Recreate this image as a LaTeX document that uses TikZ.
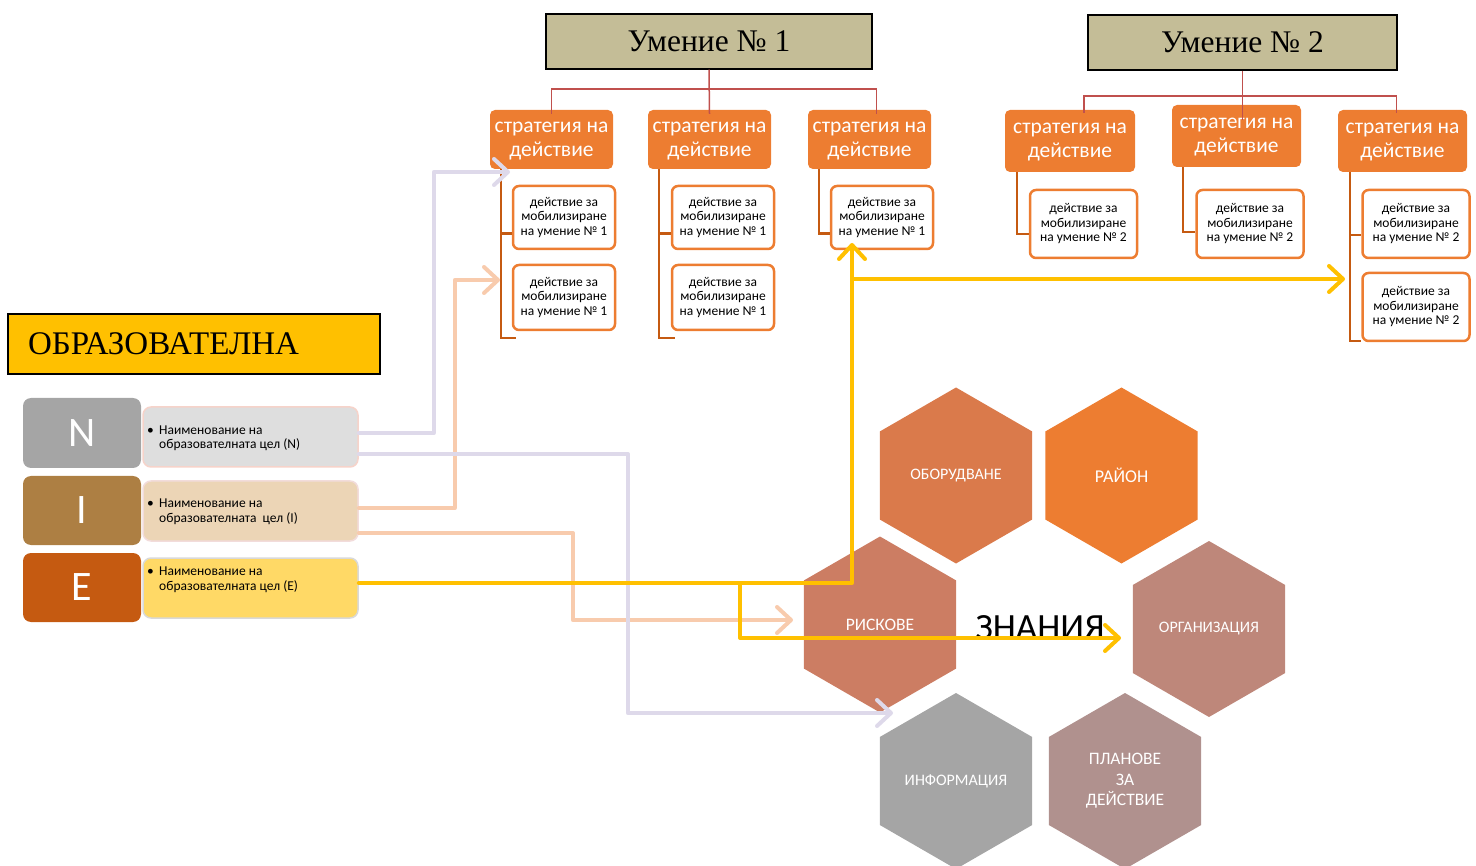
\documentclass[tikz,border=0pt]{standalone}
\usepackage{fontspec}
\setmainfont{Carlito}
\newfontfamily\serifnm{Liberation Serif}
\usetikzlibrary{arrows.meta,shapes.geometric,calc}
\definecolor{khaki}{HTML}{C4BD97}
\definecolor{orng}{HTML}{ED7D31}
\definecolor{brwn}{HTML}{C55A11}
\definecolor{redl}{HTML}{C0504D}
\definecolor{lav}{HTML}{DED9EA}
\definecolor{peach}{HTML}{F8CBAD}
\definecolor{yel}{HTML}{FFC000}
\definecolor{ngray}{HTML}{A5A5A5}
\definecolor{ibrown}{HTML}{AD7F43}
\definecolor{eorng}{HTML}{C55A11}
\definecolor{nfill}{HTML}{DEDEDE}
\definecolor{ifill}{HTML}{ECD5B6}
\definecolor{efill}{HTML}{FFD966}
\definecolor{nbord}{HTML}{F6D3CA}
\definecolor{ibord}{HTML}{F2DCDB}
\definecolor{ebord}{HTML}{D9D9D9}
\definecolor{hexA}{HTML}{DA7A4B}
\definecolor{hexB}{HTML}{ED7D31}
\definecolor{hexC}{HTML}{CC7D63}
\definecolor{hexD}{HTML}{BE877A}
\definecolor{hexE}{HTML}{A5A5A5}
\definecolor{hexF}{HTML}{B0918E}
\newcommand{\stx}{\raisebox{-3pt}{\begin{tabular}{@{}c@{}}стратегия на\\действие\end{tabular}}}
\begin{document}
\begin{tikzpicture}[x=1pt,y=-1pt,
  titlebox/.style={draw=black, line width=1.2pt, fill=khaki, inner sep=0pt, font=\serifnm\fontsize{31.5}{31.5}\selectfont},
  strat/.style={fill=orng, rounded corners=5pt, text=white, font=\fontsize{21.5}{24}\selectfont, align=center, inner sep=0pt},
  act/.style={draw=orng, line width=2.5pt, fill=white, rounded corners=6pt, font=\fontsize{13.5}{14.5}\selectfont, align=center, inner sep=0pt},
  tree/.style={draw=brwn, line width=2.5pt},
  link/.style={draw=redl, line width=1.5pt},
  letter/.style={rounded corners=8pt, text=white, font=\fontsize{42}{42}\selectfont, minimum width=118pt, minimum height=70pt, inner sep=0pt},
  goal/.style={rounded corners=8pt, line width=1.5pt, minimum width=215pt, minimum height=60pt, inner sep=0pt},
  goaltext/.style={anchor=west, align=left, font=\fontsize{13.5}{14.5}\selectfont, inner sep=0pt},
  hexa/.style={regular polygon, regular polygon sides=6, shape border rotate=30, minimum size=176pt, inner sep=0pt, text=white, align=center},
  flow/.style={line width=4pt, line cap=round, line join=round, -{Straight Barb[round,length=14pt,width=26pt]}}
]
\useasboundingbox (0,0) rectangle (1476,866);

% titles
\node[titlebox, minimum width=326pt, minimum height=55pt] (t1) at (709,41.5) {Умение № 1};
\node[titlebox, minimum width=309pt, minimum height=55pt] (t2) at (1242.5,42.5) {Умение № 2};

% strategies
\node[strat, minimum width=123pt, minimum height=59pt] (s11) at (551.5,139.5) {\stx};
\node[strat, minimum width=123pt, minimum height=59pt] (s12) at (709.5,139.5) {\stx};
\node[strat, minimum width=123pt, minimum height=59pt] (s13) at (869.5,139.5) {\stx};
\node[strat, minimum width=130pt, minimum height=62pt] (s21) at (1070,141) {\stx};
\node[strat, minimum width=129pt, minimum height=62pt] (s22) at (1236.5,136) {\stx};
\node[strat, minimum width=129pt, minimum height=62pt] (s23) at (1402.5,141) {\stx};

% red links
\draw[link] (t1.south) -- ([yshift=-4pt]s12.north);
\draw[link] ([yshift=-4pt]s11.north) -- ++(0,-25) -| ([xshift=7pt,yshift=-4pt]s13.north);
\draw[link] (t2.south) -- ([xshift=6pt,yshift=-15pt]s22.north);
\draw[link] ([xshift=14pt,yshift=-3pt]s21.north) -- ++(0,-17) -| ([xshift=-6pt,yshift=-3pt]s23.north);

% action boxes
\node[act, minimum width=102pt, minimum height=63pt] (a11) at (564,217.5) {действие за\\мобилизиране\\на умение № 1};
\node[act, minimum width=102pt, minimum height=65pt] (a12) at (564,297.5) {действие за\\мобилизиране\\на умение № 1};
\node[act, minimum width=102pt, minimum height=63pt] (a21) at (723,217.5) {действие за\\мобилизиране\\на умение № 1};
\node[act, minimum width=102pt, minimum height=65pt] (a22) at (723,297.5) {действие за\\мобилизиране\\на умение № 1};
\node[act, minimum width=102pt, minimum height=63pt] (a31) at (882,217.5) {действие за\\мобилизиране\\на умение № 1};
\node[act, minimum width=107pt, minimum height=68pt] (b11) at (1083.5,224) {действие за\\мобилизиране\\на умение № 2};
\node[act, minimum width=107pt, minimum height=68pt] (b21) at (1250,224) {действие за\\мобилизиране\\на умение № 2};
\node[act, minimum width=107pt, minimum height=68pt] (b31) at (1416,224) {действие за\\мобилизиране\\на умение № 2};
\node[act, minimum width=107pt, minimum height=68pt] (b32) at (1416,307) {действие за\\мобилизиране\\на умение № 2};

% tree lines
\draw[tree] ([xshift=11pt]s11.south west) |- ([yshift=-16pt]a11.west);
\draw[tree] ([xshift=11pt]s11.south west) |- ([xshift=4pt,yshift=-7pt]a12.south west);
\draw[tree] ([xshift=11pt]s12.south west) |- ([yshift=-16pt]a21.west);
\draw[tree] ([xshift=11pt]s12.south west) |- ([xshift=4pt,yshift=-7pt]a22.south west);
\draw[tree] ([xshift=11pt]s13.south west) |- ([yshift=-16pt]a31.west);
\draw[tree] ([xshift=12pt]s21.south west) |- ([yshift=-10pt]b11.west);
\draw[tree] ([xshift=11pt]s22.south west) |- ([yshift=-8pt]b21.west);
\draw[tree] ([xshift=12pt]s23.south west) |- ([yshift=-11pt]b31.west);
\draw[tree] ([xshift=12pt]s23.south west) |- ([yshift=1pt]b32.south west);

% ОБРАЗОВАТЕЛНА
\node[draw=black, line width=1.2pt, fill=yel, minimum height=60pt, text width=332pt, inner xsep=20pt, inner ysep=0pt, align=left, font=\serifnm\fontsize{33}{33}\selectfont] (ob) at (194,344) {ОБРАЗОВАТЕЛНА};

% NIE
\node[goal, fill=nfill, draw=nbord] (nt) at (250.5,437) {};
\node[goal, fill=ifill, draw=ibord] (it) at (250.5,511) {};
\node[goal, fill=efill, draw=ebord] (et) at (250.5,588) {};
\node[letter, fill=ngray] (nl) at (82,433) {N};
\node[letter, fill=ibrown, minimum height=69pt] (il) at (82,510.5) {I};
\node[letter, fill=eorng, minimum height=69pt] (el) at (82,587.5) {E};
\node[goaltext] (ntx) at (147,438.5) {\makebox[12pt][l]{•}Наименование на\\\hspace*{12pt}образователната цел (N)};
\node[goaltext] (itx) at (147,512) {\makebox[12pt][l]{•}Наименование на\\\hspace*{12pt}образователната\ \ цел (I)};
\node[goaltext] (etx) at (147,580) {\makebox[12pt][l]{•}Наименование на\\\hspace*{12pt}образователната цел (E)};

% hexagons
\node[hexa, fill=hexA, font=\fontsize{16}{20}\selectfont] (h1) at (956,475.5) {ОБОРУДВАНЕ};
\node[hexa, fill=hexB, font=\fontsize{18}{20}\selectfont] (h2) at (1121.5,475.5) {РАЙОН};
\node[hexa, fill=hexC, font=\fontsize{17.5}{20}\selectfont] (h3) at (880,624.5) {РИСКОВЕ};
\node[hexa, fill=hexD, font=\fontsize{16}{20}\selectfont] (h4) at (1209,629) {ОРГАНИЗАЦИЯ};
\node[hexa, fill=hexE, font=\fontsize{16}{20}\selectfont] (h5) at (956,781) {ИНФОРМАЦИЯ};
\node[hexa, fill=hexF, font=\fontsize{17.5}{20.5}\selectfont] (h6) at (1125,781) {ПЛАНОВЕ\\ЗА\\ДЕЙСТВИЕ};
\node[font=\fontsize{37}{37}\selectfont, inner sep=0pt] (zn) at (1040,628) {ЗНАНИЯ};

% flow arrows
\coordinate (p1) at (510,172);
\coordinate (p2) at (893,713);
\coordinate (p3) at (500,280);
\coordinate (p4) at (793,620);
\coordinate (p5) at (852,243);
\coordinate (j1) at (852,279);
\coordinate (p6) at (1345,279);
\coordinate (j2) at (740,583);
\coordinate (p7) at (1121,638);

\draw[flow, draw=peach] ([yshift=3pt]it.east) -- ++(96,0) |- (p3);
\draw[flow, draw=peach] ([yshift=-22pt]it.east) -- ++(214,0) |- (p4);
\draw[flow, draw=lav] ([yshift=4pt]nt.east) -- ++(75,0) |- (p1);
\draw[flow, draw=lav] ([yshift=-17pt]nt.east) -- ++(269,0) |- (p2);
\draw[flow, draw=yel] ([yshift=5pt]et.east) -| (p5);
\draw[flow, draw=yel] (j1) -- (p6);
\draw[flow, draw=yel] (j2) |- (p7);
\end{tikzpicture}
\end{document}
